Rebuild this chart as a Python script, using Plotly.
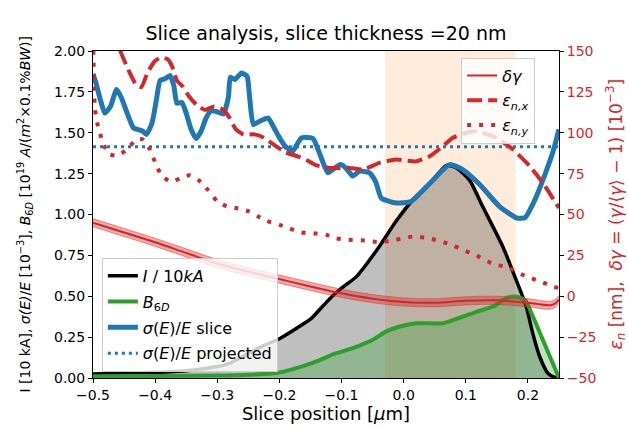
import plotly.graph_objects as go

# ---- left axis: current, 6D brightness, energy spread ----
i_pos = [-0.5, -0.45, -0.4, -0.35, -0.3, -0.28, -0.25, -0.23, -0.2, -0.17, -0.15, -0.13, -0.115,
         -0.1, -0.076, -0.04, -0.012, 0.015, 0.042, 0.069, 0.085, 0.106, 0.127, 0.16, 0.181,
         0.197, 0.208, 0.219, 0.232, 0.242, 0.25]
i_val = [0.025, 0.03, 0.035, 0.045, 0.07, 0.09, 0.15, 0.19, 0.24, 0.31, 0.36, 0.44, 0.5,
         0.55, 0.62, 0.8, 0.96, 1.09, 1.19, 1.30, 1.285, 1.21, 1.05, 0.8, 0.6,
         0.44, 0.27, 0.13, 0.03, 0.005, 0.0]

b_pos = [-0.5, -0.4, -0.3, -0.25, -0.205, -0.173, -0.135, -0.11, -0.092, -0.07, -0.049, -0.028,
         -0.006, 0.02, 0.063, 0.095, 0.117, 0.144, 0.165, 0.181, 0.195, 0.208, 0.224, 0.24, 0.25]
b_val = [0.01, 0.012, 0.015, 0.02, 0.03, 0.06, 0.11, 0.15, 0.17, 0.2, 0.235, 0.285,
         0.315, 0.335, 0.335, 0.375, 0.405, 0.437, 0.488, 0.498, 0.478, 0.376, 0.233, 0.09, 0.0]

s_pos = [-0.5, -0.495, -0.488, -0.481, -0.472, -0.462, -0.455, -0.445, -0.435, -0.428, -0.42,
         -0.414, -0.405, -0.398, -0.392, -0.384, -0.376, -0.37, -0.365, -0.357, -0.35, -0.342,
         -0.334, -0.326, -0.318, -0.31, -0.302, -0.29, -0.282, -0.279, -0.272, -0.261, -0.252,
         -0.248, -0.242, -0.232, -0.218, -0.21, -0.2, -0.189, -0.178, -0.17, -0.164, -0.146,
         -0.135, -0.122, -0.112, -0.103, -0.098, -0.09, -0.082, -0.071, -0.055, -0.045, -0.036,
         -0.012, 0.012, 0.042, 0.074, 0.095, 0.122, 0.154, 0.181, 0.195, 0.21, 0.224, 0.24, 0.25]
s_val = [1.86, 1.80, 1.70, 1.62, 1.66, 1.765, 1.72, 1.62, 1.53, 1.52, 1.51,
         1.49, 1.56, 1.70, 1.82, 1.83, 1.85, 1.79, 1.68, 1.685, 1.62, 1.52,
         1.465, 1.51, 1.59, 1.635, 1.63, 1.615, 1.72, 1.84, 1.825, 1.865, 1.845,
         1.72, 1.55, 1.57, 1.59, 1.54, 1.47, 1.41, 1.39, 1.44, 1.47, 1.465,
         1.37, 1.255, 1.28, 1.305, 1.30, 1.27, 1.235, 1.265, 1.255, 1.2, 1.10,
         1.07, 1.08, 1.19, 1.305, 1.275, 1.185, 1.05, 0.98, 0.98, 1.08, 1.21, 1.38, 1.52]

proj_spread = 1.415
x_span = [-0.5, 0.25]

# ---- right axis: energy deviation and emittances ----
dg_pos = [-0.5, -0.45, -0.4, -0.35, -0.3, -0.25, -0.2, -0.15, -0.1, -0.05, 0.0, 0.05, 0.1,
          0.15, 0.2, 0.24, 0.25]
dg_val = [45, 39, 33, 26.5, 20, 15, 10.5, 6, 1.8, -1.5, -3.5, -4, -2.8,
          -2.5, -4, -5.2, -2]
dg_spread = 2.5

ex_pos = [-0.5, -0.47, -0.455, -0.44, -0.43, -0.422, -0.412, -0.4, -0.39, -0.38, -0.372,
          -0.365, -0.355, -0.345, -0.333, -0.32, -0.305, -0.29, -0.28, -0.27, -0.258, -0.24,
          -0.225, -0.21, -0.19, -0.17, -0.155, -0.14, -0.119, -0.087, -0.065, -0.039, -0.012,
          0.02, 0.042, 0.063, 0.079, 0.1, 0.117, 0.149, 0.176, 0.203, 0.224, 0.25]
ex_val = [185, 165, 149, 136, 129, 128, 137, 144, 146, 145, 140,
          132, 128, 122, 117, 114, 116, 114, 109, 102, 99, 99,
          97, 93, 88, 85.5, 83, 80, 78.5, 78.5, 77.5, 81.6, 83.6,
          82.5, 85.6, 91.7, 96.9, 100, 100.9, 96.9, 89.7, 79.5, 69.3, 54]

ey_pos = [-0.5, -0.497, -0.492, -0.484, -0.475, -0.46, -0.445, -0.43, -0.42, -0.41, -0.4,
          -0.39, -0.375, -0.36, -0.345, -0.33, -0.315, -0.3, -0.285, -0.27, -0.25, -0.235,
          -0.22, -0.2, -0.185, -0.165, -0.15, -0.125, -0.11, -0.09, -0.06, -0.04, -0.02, 0.0,
          0.015, 0.04, 0.06, 0.08, 0.095, 0.115, 0.145, 0.165, 0.195, 0.22, 0.24, 0.25]
ey_val = [165, 115, 104, 94, 87, 86, 90, 96, 96, 91, 82,
          74, 70, 72, 74, 71, 65, 58, 55, 54, 52, 49,
          46, 43.7, 41.7, 39, 38.7, 37.6, 35.5, 34.6, 34, 33, 34, 35.5,
          36.5, 35.5, 33.5, 31, 28.4, 25.4, 19.5, 18, 12.5, 9, 6, 5]

BLUE = "#1f77b4"
GREEN = "#2ca02c"
RED = "#d62728"
FONT = "DejaVu Sans"

fig = go.Figure()

# shaded areas under the current and brightness profiles
fig.add_trace(go.Scatter(x=i_pos, y=i_val, mode="lines", line=dict(width=0, shape="spline", smoothing=0.6),
                         fill="tozeroy", fillcolor="rgba(0,0,0,0.25)", showlegend=False, hoverinfo="skip"))
fig.add_trace(go.Scatter(x=b_pos, y=b_val, mode="lines", line=dict(width=0, shape="spline", smoothing=0.6),
                         fill="tozeroy", fillcolor="rgba(44,160,44,0.3)", showlegend=False, hoverinfo="skip"))

fig.add_trace(go.Scatter(x=i_pos, y=i_val, mode="lines", name="<i>I</i> / 10<i>kA</i>",
                         line=dict(color="black", width=3.5, shape="spline", smoothing=0.6),
                         legend="legend", legendgroup="a"))
fig.add_trace(go.Scatter(x=b_pos, y=b_val, mode="lines", name="<i>B</i><sub>6<i>D</i></sub>",
                         line=dict(color=GREEN, width=4, shape="spline", smoothing=0.6),
                         legend="legend", legendgroup="b"))
fig.add_trace(go.Scatter(x=s_pos, y=s_val, mode="lines", name="<i>σ</i>(<i>E</i>)/<i>E</i> slice",
                         line=dict(color=BLUE, width=5, shape="spline", smoothing=0.5),
                         legend="legend", legendgroup="c"))
fig.add_trace(go.Scatter(x=x_span, y=[proj_spread, proj_spread], mode="lines",
                         name="<i>σ</i>(<i>E</i>)/<i>E</i> projected",
                         line=dict(color=BLUE, width=3, dash="3px,4px"),
                         legend="legend", legendgroup="d"))

# right axis traces
dg_hi = [v + dg_spread for v in dg_val]
dg_lo = [v - dg_spread for v in dg_val]
fig.add_trace(go.Scatter(x=dg_pos, y=dg_hi, mode="lines", yaxis="y2",
                         line=dict(color="rgba(214,39,40,0.45)", width=1, shape="spline"),
                         showlegend=False, hoverinfo="skip"))
fig.add_trace(go.Scatter(x=dg_pos, y=dg_lo, mode="lines", yaxis="y2",
                         line=dict(color="rgba(214,39,40,0.45)", width=1, shape="spline"),
                         fill="tonexty", fillcolor="rgba(214,39,40,0.4)",
                         showlegend=False, hoverinfo="skip"))
fig.add_trace(go.Scatter(x=dg_pos, y=dg_val, mode="lines", yaxis="y2", name="<i>δγ</i>",
                         line=dict(color=RED, width=2, shape="spline"),
                         legend="legend2", legendgroup="e"))
fig.add_trace(go.Scatter(x=ex_pos, y=ex_val, mode="lines", yaxis="y2",
                         name="<i>ε</i><sub><i>n,x</i></sub>",
                         line=dict(color=RED, width=4, dash="15px,6px", shape="spline", smoothing=0.5),
                         legend="legend2", legendgroup="f"))
fig.add_trace(go.Scatter(x=ey_pos, y=ey_val, mode="lines", yaxis="y2",
                         name="<i>ε</i><sub><i>n,y</i></sub>",
                         line=dict(color=RED, width=4, dash="4px,8px", shape="spline", smoothing=0.5),
                         legend="legend2", legendgroup="g"))

fig.add_shape(type="rect", xref="x", yref="paper", x0=-0.03, x1=0.18, y0=0, y1=1,
              fillcolor="rgba(255,127,14,0.15)", line=dict(width=0), layer="below")

axis_common = dict(showgrid=False, zeroline=False, showline=True, linecolor="black", linewidth=1,
                   ticks="outside", ticklen=4, tickwidth=1, tickcolor="black")

fig.update_layout(
    width=628, height=429,
    margin=dict(l=93, r=69, t=51, b=51, autoexpand=False),
    paper_bgcolor="white", plot_bgcolor="white",
    font=dict(family=FONT, size=14, color="black"),
    title=dict(text="Slice analysis, slice thickness =20 nm", x=0.5, xref="paper",
               y=1 - 33 / 429, yref="container", yanchor="middle", xanchor="center",
               font=dict(size=19)),
    xaxis=dict(range=[-0.5, 0.25], tickvals=[-0.5, -0.4, -0.3, -0.2, -0.1, 0.0, 0.1, 0.2],
               tickformat=".1f", mirror=True,
               title=dict(text="Slice position [<i>μ</i>m]", font=dict(size=18), standoff=4),
               **axis_common),
    yaxis=dict(range=[0, 2], tickvals=[0, 0.25, 0.5, 0.75, 1.0, 1.25, 1.5, 1.75, 2.0],
               tickformat=".2f", mirror=False, **axis_common),
    yaxis2=dict(range=[-50, 150], tickvals=[-50, -25, 0, 25, 50, 75, 100, 125, 150],
                overlaying="y", side="right", tickfont=dict(color=RED), **axis_common),
    legend=dict(x=0.019, y=0.3675, xanchor="left", yanchor="top",
                bgcolor="rgba(255,255,255,0.8)", bordercolor="#cccccc", borderwidth=1,
                traceorder="grouped", tracegroupgap=2, font=dict(size=16)),
    legend2=dict(x=0.79, y=0.98, xanchor="left", yanchor="top",
                 bgcolor="rgba(255,255,255,0.8)", bordercolor="#cccccc", borderwidth=1,
                 traceorder="grouped", tracegroupgap=1, font=dict(size=16)),
    annotations=[
        dict(text="I [10 kA], <i>σ(E)</i>/<i>E</i> [10<sup>−3</sup>], <i>B</i><sub>6<i>D</i></sub> "
                  "[10<sup>19</sup> <i>A</i>/(<i>m</i><sup>2</sup>×0.1%<i>BW</i>)]",
             xref="paper", yref="paper", x=(25 - 93) / 466, y=0.5, textangle=-90,
             showarrow=False, xanchor="center", yanchor="middle", font=dict(size=14)),
        dict(text="<i>ε</i><sub><i>n</i></sub> [nm],  <i>δγ</i> = (<i>γ</i>/⟨<i>γ</i>⟩ − 1) [10<sup>−3</sup>]",
             xref="paper", yref="paper", x=(616 - 93) / 466, y=0.5, textangle=-90,
             showarrow=False, xanchor="center", yanchor="middle", font=dict(size=17, color=RED)),
    ],
)

fig.write_html("out.html")
